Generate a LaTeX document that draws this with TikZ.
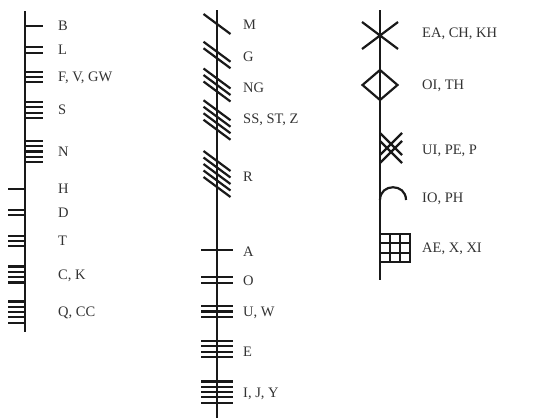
\documentclass[tikz,border=0pt]{standalone}
\usepackage{fontspec}
\setmainfont{Liberation Serif}
\begin{document}
\begin{tikzpicture}[x=1pt,y=-1pt,
    tallo/.style={line width=2.6pt,black!90},
    raya/.style={line width=2.2pt,black!90},
    letra/.style={anchor=west,inner sep=0pt,text height=9.5pt,text depth=0pt,
        text=black!80,font=\fontsize{14.5}{16}\selectfont}]
\def\sep{5.3}
\def\sepd{6.5}
    \useasboundingbox (0,0) rectangle (535,418);

    %Columna 1
    \draw[tallo] (25,11) -- (25,332);
    \foreach \n/\yc in {1/26,2/50,3/77,4/110,5/151.5}{
        \foreach \k in {1,...,\n}{
            \draw[raya] (25,{\yc+(\k-(\n+1)/2)*\sep}) -- ++(18,0);
        }
    }
    \foreach \n/\yc in {1/189,2/212.5,3/241,4/274.5,5/312}{
        \foreach \k in {1,...,\n}{
            \draw[raya] (25,{\yc+(\k-(\n+1)/2)*\sep}) -- ++(-17.5,0);
        }
    }
    \node[letra] (lb) at (58,26) {B};
    \node[letra] (ll) at (58,50) {L};
    \node[letra] (lf) at (58,77) {F, V, GW};
    \node[letra] (ls) at (58,110) {S};
    \node[letra] (ln) at (58,151.5) {N};
    \node[letra] (lh) at (58,189) {H};
    \node[letra] (ld) at (58,212.5) {D};
    \node[letra] (lt) at (58,241) {T};
    \node[letra] (lc) at (58,274.5) {C, K};
    \node[letra] (lq) at (58,312) {Q, CC};

    %Columna 2
    \draw[tallo] (217,10) -- (217,418);
    \foreach \n/\yc in {1/24,2/55,3/85,4/120,5/174}{
        \foreach \k in {1,...,\n}{
            \draw[raya] (203.5,{\yc+(\k-(\n+1)/2)*\sepd-10}) -- ++(27,20);
        }
    }
    \foreach \n/\yc in {1/250,2/280,3/311.5,4/349,5/392}{
        \foreach \k in {1,...,\n}{
            \draw[raya] (201,{\yc+(\k-(\n+1)/2)*\sep}) -- ++(32,0);
        }
    }
    \node[letra] (lm) at (243,25) {M};
    \node[letra] (lg) at (243,57) {G};
    \node[letra] (lng) at (243,88) {NG};
    \node[letra] (lss) at (243,119) {SS, ST, Z};
    \node[letra] (lr) at (243,177) {R};
    \node[letra] (la) at (243,252) {A};
    \node[letra] (lo) at (243,281) {O};
    \node[letra] (lu) at (243,312) {U, W};
    \node[letra] (le) at (243,352) {E};
    \node[letra] (li) at (243,393) {I, J, Y};

    %Columna 3
    \draw[tallo] (380,10) -- (380,280);
    \draw[raya] (362,22) -- (398,49) (362,49) -- (398,22);
    \draw[raya] (380,70) -- (397.5,85) -- (380,100) -- (362.5,85) -- cycle;
    \draw[raya] (380,133) -- (402,155) (380,155) -- (402,133)
        (380,141) -- (402,163) (380,163) -- (402,141);
    \draw[raya] (380,200) .. controls (380,183) and (406,183) .. (406,200);
    \draw[raya] (380,234) rectangle (410,262);
    \foreach \x in {390,400}{
        \draw[raya] (\x,234) -- (\x,262);
    }
    \foreach \y in {243.3,252.7}{
        \draw[raya] (380,\y) -- (410,\y);
    }
    \node[letra] (lea) at (422,33) {EA, CH, KH};
    \node[letra] (loi) at (422,85) {OI, TH};
    \node[letra] (lui) at (422,150) {UI, PE, P};
    \node[letra] (lio) at (422,198) {IO, PH};
    \node[letra] (lae) at (422,248) {AE, X, XI};
\end{tikzpicture}
\end{document}
